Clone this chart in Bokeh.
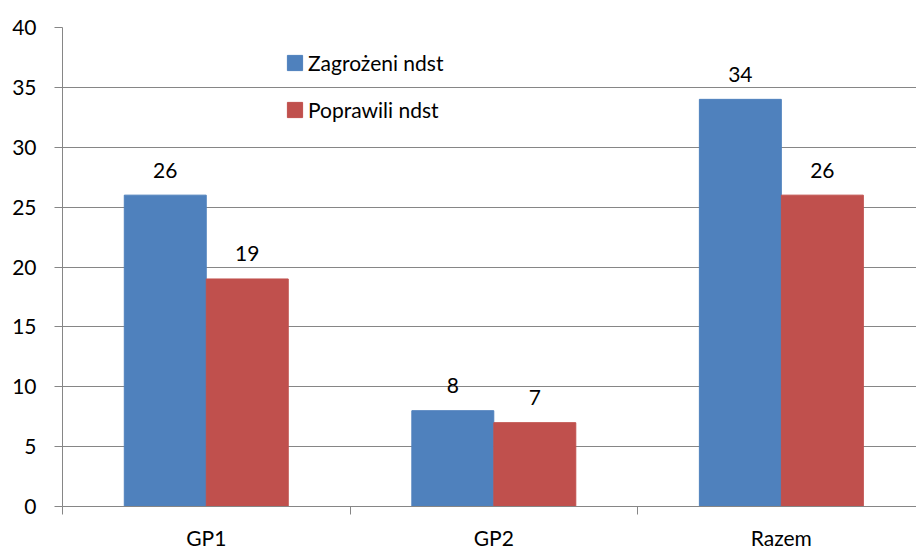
from bokeh.plotting import figure
from bokeh.models import Range1d, FixedTicker, ColumnDataSource, Legend, LegendItem
from bokeh.embed import file_html
from bokeh.resources import INLINE
from bokeh.transform import dodge
from bokeh.core.properties import value
import numpy as np

categories = ["GP1", "GP2", "Razem"]
zagrozeni = [26, 8, 34]
poprawili = [19, 7, 26]
series_names = ["Zagrożeni ndst", "Poprawili ndst"]
y_ticks = [0, 5, 10, 15, 20, 25, 30, 35, 40]

BLUE = "#4F81BD"
RED = "#C0504D"
GRID = "#868686"
FONT = "Lato"
FS = "21px"

xc = np.arange(len(categories)) + 0.5
src = ColumnDataSource(dict(
    x=xc, z=zagrozeni, p=poprawili,
    zl=[str(v) for v in zagrozeni], pl=[str(v) for v in poprawili],
))

p = figure(width=916, height=552, x_range=Range1d(0, 2.97), y_range=Range1d(0, 40),
           output_backend="svg", toolbar_location=None,
           min_border_left=62, min_border_top=27, min_border_right=0, min_border_bottom=45)
p.outline_line_color = None
p.xgrid.grid_line_color = None
p.ygrid.grid_line_color = GRID
p.ygrid.grid_line_width = 1
p.ygrid.ticker = FixedTicker(ticks=y_ticks)

# y axis
p.yaxis.ticker = FixedTicker(ticks=y_ticks)
p.yaxis.axis_line_color = GRID
p.yaxis.major_tick_line_color = GRID
p.yaxis.major_tick_out = 8
p.yaxis.major_tick_in = 0
p.yaxis.minor_tick_line_color = None
p.yaxis.major_label_standoff = 18
p.yaxis.major_label_text_font = FONT
p.yaxis.major_label_text_font_size = FS
p.yaxis.major_label_text_color = "black"

# x axis
p.xaxis.ticker = FixedTicker(ticks=list(xc), minor_ticks=list(range(len(categories) + 1)))
p.xaxis.major_label_overrides = {float(v): c for v, c in zip(xc, categories)}
p.xaxis.axis_line_color = GRID
p.xaxis.major_tick_line_color = None
p.xaxis.major_tick_out = 0
p.xaxis.major_tick_in = 0
p.xaxis.minor_tick_line_color = GRID
p.xaxis.minor_tick_out = 8
p.xaxis.minor_tick_in = 0
p.xaxis.major_label_standoff = 10
p.xaxis.major_label_text_font = FONT
p.xaxis.major_label_text_font_size = FS
p.xaxis.major_label_text_color = "black"

r1 = p.vbar(x=dodge("x", -0.1426, range=p.x_range), top="z", width=0.285, source=src,
            fill_color=BLUE, line_color=BLUE)
r2 = p.vbar(x=dodge("x", 0.1426, range=p.x_range), top="p", width=0.285, source=src,
            fill_color=RED, line_color=RED)

p.text(x=dodge("x", -0.1426, range=p.x_range), y="z", text="zl", source=src,
       text_align="center", text_baseline="alphabetic", y_offset=-25,
       text_font=value(FONT), text_font_size=FS, text_color="black")
p.text(x=dodge("x", 0.1426, range=p.x_range), y="p", text="pl", source=src,
       text_align="center", text_baseline="alphabetic", y_offset=-25,
       text_font=value(FONT), text_font_size=FS, text_color="black")

legend = Legend(items=[LegendItem(label=series_names[0], renderers=[r1]),
                       LegendItem(label=series_names[1], renderers=[r2])],
                location=(223, 384), orientation="vertical",
                glyph_width=19, glyph_height=19, label_standoff=4, spacing=22,
                padding=0, margin=0,
                label_text_font=FONT, label_text_font_size=FS, label_text_color="black",
                background_fill_alpha=0, border_line_color=None)
p.add_layout(legend, "center")

open("out.html", "w").write(file_html(p, INLINE))
